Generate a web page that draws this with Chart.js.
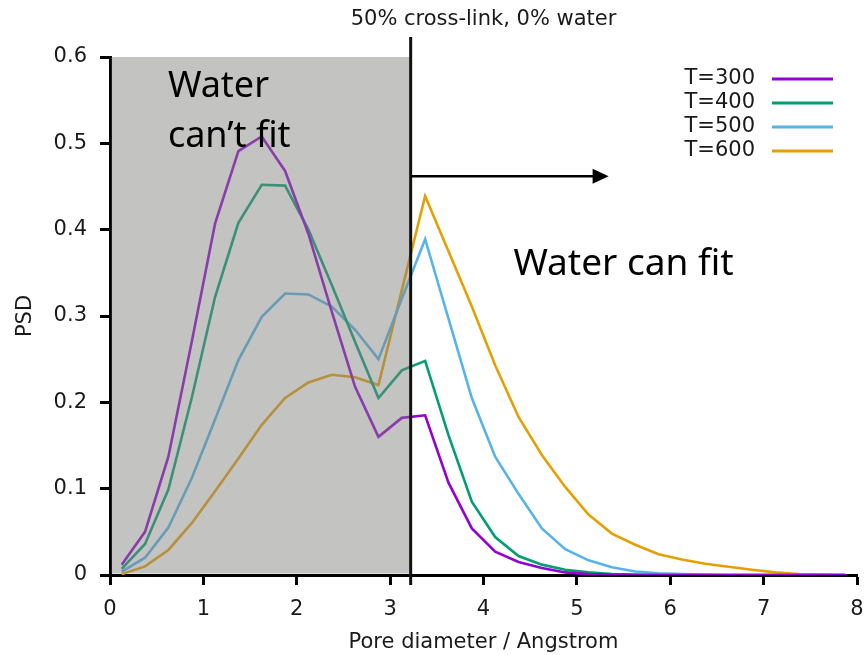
<!DOCTYPE html>
<html>
<head>
<meta charset="utf-8">
<script src="https://cdn.jsdelivr.net/npm/chart.js@4.4.0/dist/chart.umd.min.js"></script>
<style>
  html, body { margin: 0; padding: 0; background: #ffffff; }
  #wrap { width: 864px; height: 655px; position: relative; }
</style>
</head>
<body>
<div id="wrap"><canvas id="c" width="864" height="655"></canvas></div>
<script>
// ---- data ----
const poreDiameter = [0.125,0.375,0.625,0.875,1.125,1.375,1.625,1.875,2.125,2.375,2.625,2.875,3.125,3.375,3.625,3.875,4.125,4.375,4.625,4.875,5.125,5.375,5.625,5.875,6.125,6.375,6.625,6.875,7.125,7.375,7.625,7.875];

const psdT300 = [0.012,0.050,0.137,0.270,0.407,0.491,0.508,0.468,0.395,0.305,0.218,0.160,0.182,0.185,0.107,0.054,0.027,0.015,0.008,0.003,0.001,0.0005,0,0,0,0,0,0,0,0,0,0];
const psdT400 = [0.007,0.036,0.099,0.205,0.322,0.408,0.452,0.451,0.400,0.336,0.270,0.205,0.237,0.248,0.162,0.085,0.044,0.022,0.012,0.006,0.003,0.001,0.0005,0,0,0,0,0,0,0,0,0];
const psdT500 = [0.004,0.020,0.055,0.112,0.180,0.249,0.299,0.326,0.325,0.311,0.284,0.250,0.320,0.389,0.297,0.205,0.137,0.094,0.054,0.030,0.017,0.009,0.004,0.002,0.001,0.0005,0,0,0,0,0,0];
const psdT600 = [0.001,0.010,0.029,0.060,0.097,0.135,0.174,0.205,0.223,0.232,0.229,0.220,0.330,0.439,0.375,0.311,0.243,0.183,0.139,0.102,0.070,0.048,0.035,0.024,0.018,0.013,0.0095,0.006,0.003,0.001,0.0005,0];

const seriesLabels = ['T=300','T=400','T=500','T=600'];
const seriesValues = [psdT300, psdT400, psdT500, psdT600];
const seriesColors = ['#9400d3','#009e73','#56b4e9','#e69f00'];

const yTickValues = [0,0.1,0.2,0.3,0.4,0.5,0.6];
const xTickValues = [0,1,2,3,4,5,6,7,8];

const chartTitle = '50% cross-link, 0% water';
const xTitle = 'Pore diameter / Angstrom';
const yTitle = 'PSD';

// annotation positions (in data units)
const waterLimitX = 3.22;
const arrowY = 0.462;
const arrowTipX = 5.34;
const noFitText = ['Water', 'can\u2019t fit'];
const noFitPos = { x: 0.62, y: [0.554, 0.496] };
const fitText = 'Water can fit';
const fitPos = { x: 4.32, y: 0.3475 };

const FONT = "'DejaVu Sans', sans-serif";
const TXT = '#1a1a1a';

const datasets = seriesValues.map((vals, i) => ({
  label: seriesLabels[i],
  data: vals.map((v, j) => ({ x: poreDiameter[j], y: v })),
  borderColor: seriesColors[i],
  backgroundColor: seriesColors[i],
  borderWidth: 2.6,
  pointRadius: 0,
  tension: 0,
  fill: false
}));

const annotPlugin = {
  id: 'annot',
  afterDatasetsDraw(chart) {
    const ctx = chart.ctx, xs = chart.scales.x, ys = chart.scales.y, ca = chart.chartArea;
    const xb = xs.getPixelForValue(waterLimitX);
    const yTop = ys.getPixelForValue(0.6);
    const yBot = ys.getPixelForValue(0);
    ctx.save();
    // translucent grey region
    ctx.fillStyle = 'rgba(128,128,126,0.47)';
    ctx.fillRect(ca.left + 1.5, yTop, xb - ca.left - 1.5, yBot - 1.5 - yTop);
    // vertical boundary
    ctx.strokeStyle = '#111';
    ctx.lineWidth = 3;
    ctx.beginPath();
    ctx.moveTo(xb, yTop - 20);
    ctx.lineTo(xb, yBot + 10);
    ctx.stroke();
    // arrow
    const ay = ys.getPixelForValue(arrowY);
    const tip = xs.getPixelForValue(arrowTipX);
    ctx.lineWidth = 2.5;
    ctx.strokeStyle = '#000';
    ctx.beginPath();
    ctx.moveTo(xb, ay);
    ctx.lineTo(tip - 14, ay);
    ctx.stroke();
    ctx.fillStyle = '#000';
    ctx.beginPath();
    ctx.moveTo(tip, ay);
    ctx.lineTo(tip - 16, ay - 7.5);
    ctx.lineTo(tip - 16, ay + 7.5);
    ctx.closePath();
    ctx.fill();
    // big annotation texts
    ctx.fillStyle = '#000';
    ctx.textAlign = 'left';
    ctx.textBaseline = 'alphabetic';
    ctx.font = "36px 'Noto Sans', sans-serif";
    noFitText.forEach((t, i) => {
      ctx.fillText(t, xs.getPixelForValue(noFitPos.x), ys.getPixelForValue(noFitPos.y[i]));
    });
    ctx.font = "37px 'Noto Sans', sans-serif";
    ctx.fillText(fitText, xs.getPixelForValue(fitPos.x), ys.getPixelForValue(fitPos.y));
    ctx.restore();
  },
  afterDraw(chart) {
    const ctx = chart.ctx, ca = chart.chartArea;
    ctx.save();
    // title
    ctx.font = '21px ' + FONT;
    ctx.fillStyle = TXT;
    ctx.textAlign = 'center';
    ctx.textBaseline = 'middle';
    ctx.fillText(chartTitle, (ca.left + ca.right) / 2, 20);
    // legend
    chart.data.datasets.forEach((ds, i) => {
      const y = 79 + 24 * i;
      ctx.textAlign = 'right';
      ctx.fillStyle = TXT;
      ctx.fillText(ds.label, 755, y);
      ctx.strokeStyle = ds.borderColor;
      ctx.lineWidth = 3;
      ctx.beginPath();
      ctx.moveTo(772, y);
      ctx.lineTo(833, y);
      ctx.stroke();
    });
    ctx.restore();
  }
};

new Chart(document.getElementById('c'), {
  type: 'line',
  data: { datasets },
  plugins: [annotPlugin],
  options: {
    responsive: false,
    animation: false,
    devicePixelRatio: 1,
    layout: { padding: { top: 57, right: 7, left: 0, bottom: 0 } },
    plugins: { legend: { display: false }, title: { display: false }, tooltip: { enabled: false } },
    scales: {
      x: {
        type: 'linear',
        min: 0, max: 8,
        afterBuildTicks(s) { s.ticks = xTickValues.map(v => ({ value: v })); },
        afterFit(s) { s.height = 80; s.paddingLeft = 0; s.paddingRight = 0; },
        grid: { drawOnChartArea: false, drawTicks: true, tickLength: 10, tickWidth: 3, tickColor: '#000', color: '#000' },
        border: { display: true, color: '#000', width: 3 },
        ticks: { color: TXT, font: { family: FONT, size: 21 }, padding: 12, maxRotation: 0, autoSkip: false },
        title: { display: true, text: xTitle, color: TXT, font: { family: FONT, size: 21 }, padding: { top: -1, bottom: 0 } }
      },
      y: {
        type: 'linear',
        min: 0, max: 0.6,
        afterBuildTicks(s) { s.ticks = yTickValues.map(v => ({ value: v })); },
        afterFit(s) { s.width = 110; s.paddingTop = 0; s.paddingBottom = 0; },
        grid: { drawOnChartArea: false, drawTicks: true, tickLength: 10, tickWidth: 3, tickColor: '#000', color: '#000' },
        border: { display: true, color: '#000', width: 3 },
        ticks: { color: TXT, font: { family: FONT, size: 21 }, padding: 13, autoSkip: false,
                 callback: v => String(Math.round(v * 10) / 10) },
        title: { display: true, text: yTitle, color: TXT, font: { family: FONT, size: 21 }, padding: { top: 13, bottom: 0 } }
      }
    }
  }
});
</script>
</body>
</html>
